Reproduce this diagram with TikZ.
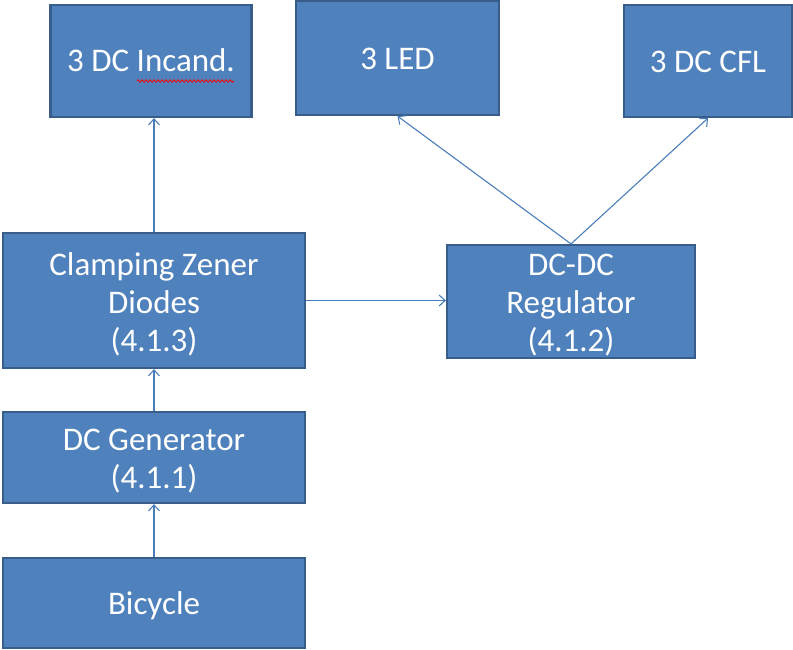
\documentclass[tikz,border=0pt]{standalone}
\usepackage{fontspec}
\setmainfont{Carlito}
\usetikzlibrary{arrows.meta,decorations.pathmorphing}
\definecolor{boxfill}{HTML}{4F81BD}
\definecolor{boxline}{HTML}{385D8A}
\definecolor{arrowc}{HTML}{4A7EBB}
\tikzset{
  blk/.style={rectangle, draw=boxline, line width=2.2pt, fill=boxfill, inner sep=0pt},
  txt/.style={text=white, align=center, inner sep=0pt, font=\fontsize{33}{38}\selectfont},
  conn/.style={draw=arrowc, line width=1.1pt, -{Straight Barb[length=6pt,width=11pt,line width=1.1pt]}}
}
\begin{document}
\begin{tikzpicture}[x=1pt,y=-1pt]
\useasboundingbox (0,0) rectangle (793,649);
\node[blk, minimum width=201pt, minimum height=112pt,
  label={[txt, yshift=1pt]center:{3 DC Incand.}}] (inc) at (151,61) {};
\node[blk, minimum width=203pt, minimum height=114pt,
  label={[txt, yshift=-1pt]center:{3 LED}}] (led) at (397.5,58) {};
\node[blk, minimum width=168pt, minimum height=112pt,
  label={[txt, yshift=-1pt]center:{3 DC CFL}}] (cfl) at (708,61) {};
\node[blk, minimum width=302pt, minimum height=135pt,
  label={[txt, yshift=-3.5pt]center:{Clamping Zener\\Diodes\\(4.1.3)}}] (clamp) at (154,300.5) {};
\node[blk, minimum width=248pt, minimum height=113pt,
  label={[txt, yshift=-3.5pt]center:{DC-DC\\Regulator\\(4.1.2)}}] (reg) at (571,301.5) {};
\node[blk, minimum width=302pt, minimum height=91pt,
  label={[txt, yshift=-4pt]center:{DC Generator\\(4.1.1)}}] (gen) at (154,457.5) {};
\node[blk, minimum width=302pt, minimum height=90pt,
  label={[txt, yshift=-3pt]center:{Bicycle}}] (bike) at (154,603) {};
\coordinate (sq1) at (137,81);
\coordinate (sq2) at (234,81);
\draw[red, line width=0.8pt, decorate, decoration={snake, amplitude=1.2pt, segment length=4pt}] (sq1) -- (sq2);
\draw[conn] (bike.north) -- (gen.south);
\draw[conn] (gen.north) -- (clamp.south);
\draw[conn] (clamp.north) -- (inc.south -| clamp.north);
\draw[conn] (clamp.east) -- (clamp.east -| reg.west);
\draw[conn] (reg.north) -- (led.south);
\draw[conn] (reg.north) -- (cfl.south);
\end{tikzpicture}
\end{document}
